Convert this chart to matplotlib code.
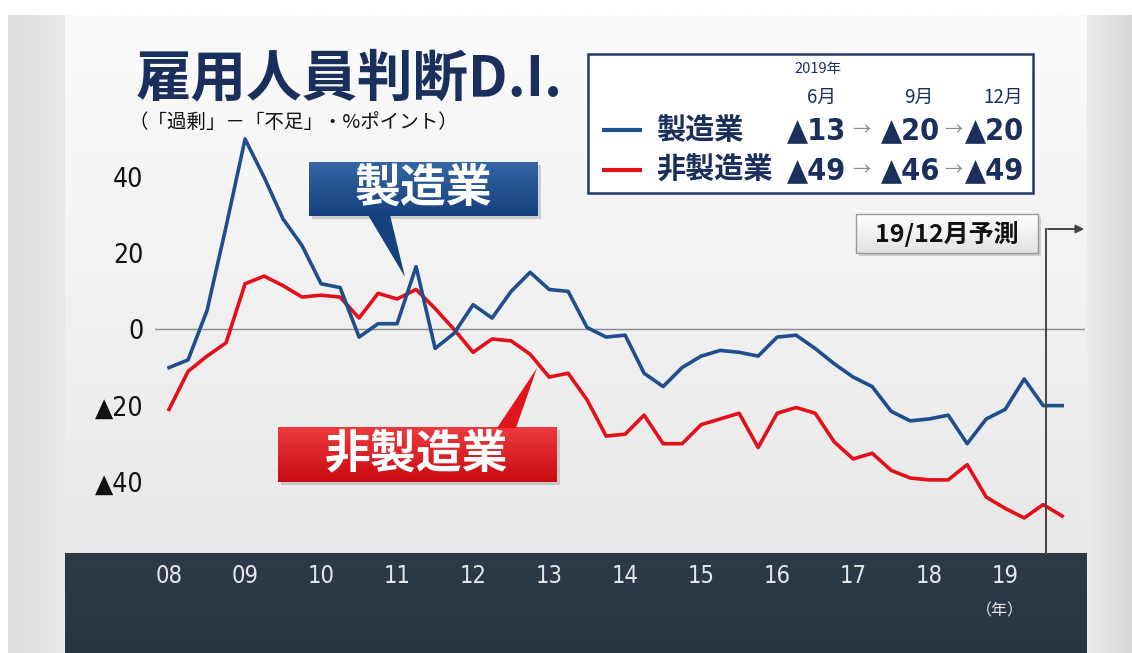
import numpy as np
import matplotlib.pyplot as plt
from matplotlib.patches import Rectangle, Polygon
from matplotlib.colors import to_rgb

plt.rcParams['font.family'] = ['Noto Sans CJK JP', 'DejaVu Sans']

# quarterly survey, 2008 Mar .. 2019 Dec (last point = forecast)
quarters = list(range(48))
year_ticks = list(range(0, 48, 4))
year_labels = ['08', '09', '10', '11', '12', '13', '14', '15', '16', '17', '18', '19']

manufacturing = [-10, -8, 5, 27, 50, 40, 29, 22, 12, 11, -2, 1.5,
                 1.5, 16.5, -5, -1, 6.5, 3, 10, 15, 10.5, 10, 0.5, -2,
                 -1.5, -11.5, -15, -10, -7, -5.5, -6, -7, -2, -1.5, -5, -9,
                 -12.5, -15, -21.5, -24, -23.5, -22.5, -30, -23.5, -21, -13, -20, -20]
non_manufacturing = [-21, -11, -7, -3.5, 12, 14, 11.5, 8.5, 9, 8.5, 3, 9.5,
                     8, 10.5, 5.5, 0, -6, -2.5, -3, -6.5, -12.5, -11.5, -18.5, -28,
                     -27.5, -22.5, -30, -30, -25, -23.5, -22, -31, -22, -20.5, -22, -29.5,
                     -34, -32.5, -37, -39, -39.5, -39.5, -35.5, -44, -47, -49.5, -46, -49]

y_ticks = [40, 20, 0, -20, -40]
y_labels = ['40', '20', '0', '▲20', '▲40']

legend_months = ['6月', '9月', '12月']
legend_mfg = ['▲13', '▲20', '▲20']
legend_non = ['▲49', '▲46', '▲49']

W, H = 1132, 653
NAVY = '#1a2f5c'
BLUE = '#1f4e8d'
RED = '#e3101a'
NUM_FONT = ['DejaVu Sans', 'Noto Sans CJK JP']


def vgrad(ax, x0, x1, y0, y1, c_top, c_bot, z=1):
    t = np.linspace(0, 1, 256)[:, None]
    img = (np.array(to_rgb(c_top)) * (1 - t) + np.array(to_rgb(c_bot)) * t)[:, None, :]
    ax.imshow(img, extent=(x0, x1, y1, y0), aspect='auto', zorder=z, interpolation='bilinear')


def hgrad(ax, x0, x1, y0, y1, c_left, c_right, z=1):
    t = np.linspace(0, 1, 256)[None, :]
    img = (np.array(to_rgb(c_left))[:, None] * (1 - t) + np.array(to_rgb(c_right))[:, None] * t)
    img = np.transpose(img, (1, 0))[None, :, :]
    ax.imshow(img, extent=(x0, x1, y1, y0), aspect='auto', zorder=z, interpolation='bilinear')


fig = plt.figure(figsize=(W / 100, H / 100), dpi=100, facecolor='white')

# background panels (pixel coordinates)
bg = fig.add_axes([0, 0, 1, 1])
bg.axis('off')
hgrad(bg, 8, 65, 15, H, '#dcdcdc', '#e9e9e9')
hgrad(bg, 1087, W, 15, H, '#ececec', '#d6d6d6')
vgrad(bg, 65, 1087, 15, 553, '#fbfbfb', '#e8e8e8')
vgrad(bg, 65, 1087, 553, H, '#2f3a49', '#2a3441')
bg.set_xlim(0, W)
bg.set_ylim(H, 0)

# chart
ax = fig.add_axes([155 / W, (H - 553) / H, 930 / W, (553 - 120) / H])
ax.patch.set_alpha(0)
ax.axhline(0, color='#8a8a8a', lw=1.0, zorder=1)
ax.plot(quarters, non_manufacturing, color=RED, lw=2.6, zorder=3)
ax.plot(quarters, manufacturing, color=BLUE, lw=2.6, zorder=4)
ax.set_xlim(-0.74, 48.2)
ax.set_ylim(-58.7, 55.0)
ax.set_yticks(y_ticks, y_labels)
ax.set_xticks(year_ticks, year_labels)
ax.tick_params(axis='y', length=0, pad=8.5, labelsize=19, labelcolor='#111111')
ax.tick_params(axis='x', length=0, pad=8, labelsize=17, labelcolor='#e4e6ea')
for lbl in ax.get_yticklabels() + ax.get_xticklabels():
    lbl.set_fontfamily(NUM_FONT)
    lbl.set_fontstretch('condensed')

for s in ax.spines.values():
    s.set_visible(False)

# overlay for title, callouts, legend
ov = fig.add_axes([0, 0, 1, 1], zorder=5)
ov.patch.set_alpha(0)
ov.axis('off')

ov.text(136, 79, '雇用人員判断D.I.', fontsize=40, fontweight='bold', color=NAVY,
        ha='left', va='center')
ov.text(128, 122, '（「過剰」－「不足」・%ポイント）', fontsize=14, color='#111111',
        ha='left', va='center')

# callout: manufacturing
ov.add_patch(Rectangle((312, 165), 229, 54, fc='#888888', alpha=0.35, lw=0, zorder=2))
vgrad(ov, 309, 538, 162, 216, '#3566a6', '#15417d', z=3)
ov.add_patch(Polygon([(368, 215), (390, 215), (405, 277)], closed=True, fc='#15417d', lw=0, zorder=3))
ov.text(423, 190, '製造業', fontsize=33, fontweight='bold', color='white', ha='center', va='center', zorder=4)

# callout: non-manufacturing
ov.add_patch(Rectangle((281, 430), 279, 55, fc='#888888', alpha=0.35, lw=0, zorder=2))
vgrad(ov, 278, 557, 427, 482, '#ee3b3f', '#c70a10', z=3)
ov.add_patch(Polygon([(497, 428), (516, 428), (537, 368)], closed=True, fc='#e0161c', lw=0, zorder=3))
ov.text(417, 455, '非製造業', fontsize=33, fontweight='bold', color='white', ha='center', va='center', zorder=4)

# forecast marker
ov.add_patch(Rectangle((859, 217), 182, 39, fc='#999999', alpha=0.4, lw=0, zorder=2))
vgrad(ov, 856, 1038, 214, 253, '#ffffff', '#e2e2e2', z=3)
ov.add_patch(Rectangle((856, 214), 182, 39, fc='none', ec='#9a9a9a', lw=1.0, zorder=4))
ov.text(947, 234, '19/12月予測', fontsize=18, fontweight='bold', color='#111111',
        ha='center', va='center', zorder=5)
ov.plot([1046, 1046], [553, 229], color='#444444', lw=1.4, zorder=4)
ov.annotate('', xy=(1087, 229), xytext=(1045.3, 229),
            arrowprops=dict(arrowstyle='-|>', color='#444444', lw=1.4, mutation_scale=12), zorder=4)

# legend box
ov.add_patch(Rectangle((588, 54), 445, 139, fc='white', ec='#22396a', lw=1.8, zorder=2))
ov.text(818, 69, '2019年', fontsize=10.5, color=NAVY, ha='center', va='center', zorder=3)
for x, m in zip([822, 919, 1003], legend_months):
    ov.text(x, 97, m, fontsize=13.5, color=NAVY, ha='center', va='center', zorder=3)

rows = [(130, BLUE, '製造業', legend_mfg), (170, RED, '非製造業', legend_non)]
for y, col, name, vals in rows:
    ov.plot([602, 642], [y, y], color=col, lw=3, solid_capstyle='butt', zorder=3)
    ov.text(656, y, name, fontsize=21, fontweight='bold', color=NAVY, ha='left', va='center', zorder=3)
    for x, v in zip([787, 881, 965], vals):
        ov.text(x, y + 1, v, fontsize=22, fontweight='bold', fontstretch='condensed', color=NAVY,
                ha='left', va='center', family=NUM_FONT, zorder=3)
    for x in [861, 953]:
        ov.text(x, y, '→', fontsize=13, color='#8a8a8a', ha='center', va='center', zorder=3)

ov.text(1000, 611, '（年）', fontsize=11.5, color='#e4e6ea', ha='center', va='center', zorder=3)

ov.set_xlim(0, W)
ov.set_ylim(H, 0)

fig.savefig('out.png', dpi=100, facecolor='white')
